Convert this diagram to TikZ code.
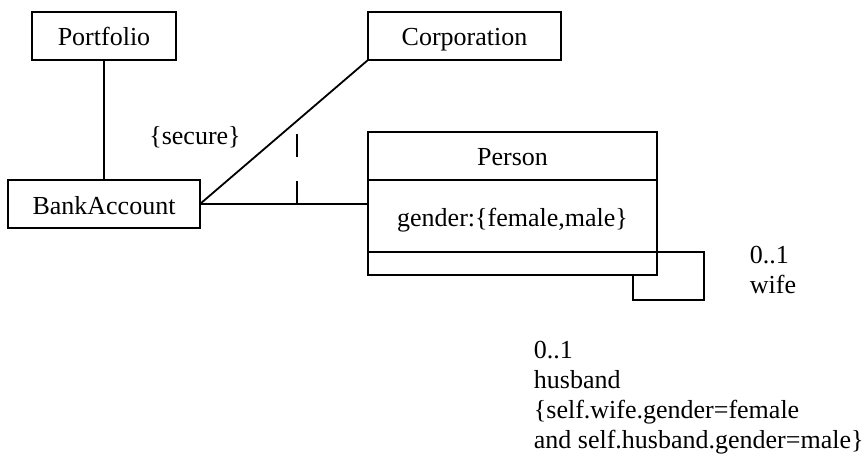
\documentclass[tikz,border=0pt]{standalone}
\usepackage{fontspec}
\setmainfont{Liberation Serif}

\tikzset{
  classbox/.style={draw, line width=1.8pt, outer sep=0pt, inner sep=0pt,
    text height=20pt, text depth=0pt},
  umltext/.style={inner sep=0pt, anchor=base west, align=left}
}

\begin{document}
\begin{tikzpicture}[x=1pt, y=-1pt, line width=1.8pt,
    every node/.style={font=\fontsize{26}{30}\selectfont}]
            \useasboundingbox (0,0) rectangle (864,457);
            \node[classbox, minimum width=144pt, minimum height=48pt] (portfolio) at (104,36) {Portfolio};
            \node[classbox, minimum width=192pt, minimum height=48pt] (bankaccount) at (104,204) {BankAccount};
            \node[classbox, minimum width=193pt, minimum height=48pt] (corporation) at (464.5,36) {Corporation};
            \node[classbox, minimum width=289pt, minimum height=48pt] (personname) at (512.5,156) {Person};
            \node[classbox, minimum width=289pt, minimum height=72pt] (personattr) at (512.5,216) {gender:\{female,male\}};
            \node[classbox, minimum width=289pt, minimum height=23pt] (personops) at (512.5,263.5) {};
            \draw (portfolio) -- (bankaccount);
            \draw (bankaccount.east) -- (corporation.south west);
            \draw (bankaccount.east) -- (bankaccount.east -| personattr.west);
            \coordinate (assoc) at (297,204);
            \draw[dash pattern=on 23pt off 24pt] (assoc) -- ++(0,-72);
            \draw (personops.north east) -- ++(47,0) -- ++(0,48) -- ++(-71,0) -- ++(0,-25);
            \node[inner sep=0pt, anchor=base] (secure) at (195,145) {\{secure\}};
            \node[umltext] (wife) at (749,293) {0..1\\wife};
            \node[umltext] (husband) at (533,448) {0..1\\husband\\\{self.wife.gender=female\\and self.husband.gender=male\}};
          \end{tikzpicture}
\end{document}
